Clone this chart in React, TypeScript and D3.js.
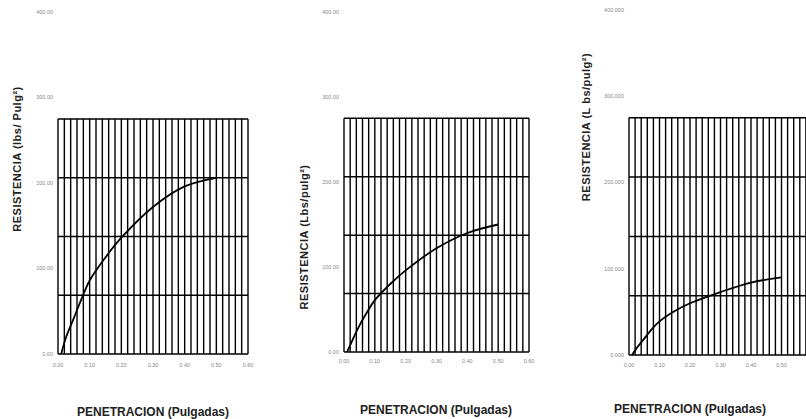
import React from "react";
import * as d3 from "d3";

const W = 806;
const H = 419;

// penetration (in) values used by all three tests
const penetration = [0.01, 0.025, 0.05, 0.075, 0.1, 0.15, 0.2, 0.3, 0.4, 0.5];
// resistance series (lbs/pulg²)
const resistance1 = [0, 19, 42, 65, 86, 113, 136, 172, 196, 206];
const resistance2 = [0, 12, 31, 47, 61, 80, 96, 122, 140, 150];
const resistance3 = [0, 8, 19, 30, 39, 51, 60, 73, 84, 90];

const xTicks = [0, 0.1, 0.2, 0.3, 0.4, 0.5, 0.6];
const yTicks = [0, 100, 200, 300, 400];
const gridXStep = 0.02;
const gridMax = 275;
const gridYDivs = 4;

const yTitles = [
  "RESISTENCIA (lbs/ Pulg²)",
  "RESISTENCIA (Lbs/pulg²)",
  "RESISTENCIA (L bs/pulg²)",
];
const xTitle = "PENETRACION (Pulgadas)";
const yDecimals = [2, 2, 3];

type Panel = {
  x0: number; x1: number; yb: number; yt: number;
  values: number[]; yTitleX: number; yTitleY: number; xTitleX: number;
  tickY: number; xTitleY: number;
};

const panels: Panel[] = [
  { x0: 58, x1: 248, yb: 354, yt: 12, values: resistance1, yTitleX: 17, yTitleY: 159, xTitleX: 153, tickY: 365, xTitleY: 416 },
  { x0: 344, x1: 529, yb: 352, yt: 12, values: resistance2, yTitleX: 304, yTitleY: 237, xTitleX: 436, tickY: 361, xTitleY: 414 },
  { x0: 629, x1: 812, yb: 355, yt: 10, values: resistance3, yTitleX: 586, yTitleY: 127, xTitleX: 690, tickY: 365, xTitleY: 413 },
];

const FONT = "Liberation Sans, Arial, sans-serif";

function ChartPanel({ p, idx }: { p: Panel; idx: number }) {
  const x = d3.scaleLinear().domain([0, 0.6]).range([p.x0, p.x1]);
  const y = d3.scaleLinear().domain([0, 400]).range([p.yb, p.yt]);
  const nV = Math.round(0.6 / gridXStep);
  const vLines = d3.range(nV + 1).map((i) => i * gridXStep);
  const hLines = d3.range(gridYDivs + 1).map((i) => (i * gridMax) / gridYDivs);
  const line = d3
    .line<number>()
    .x((_, i) => x(penetration[i]))
    .y((d) => y(d))
    .curve(d3.curveCatmullRom.alpha(0.5));
  const fmtY = d3.format(`.${yDecimals[idx]}f`);
  const fmtX = d3.format(".2f");
  return (
    <g>
      {vLines.map((v, i) => (
        <line key={"v" + i} x1={x(v)} x2={x(v)} y1={y(0)} y2={y(gridMax)} stroke="#000" strokeWidth={1.4} />
      ))}
      {hLines.map((v, i) => (
        <line key={"h" + i} x1={x(0)} x2={x(0.6)} y1={y(v)} y2={y(v)} stroke="#000" strokeWidth={1.5} />
      ))}
      <path d={line(p.values) || ""} fill="none" stroke="#000" strokeWidth={1.8} />
      {yTicks.map((t) => (
        <text key={"yt" + t} x={p.x0 - 5} y={y(t)} dy="0.35em" textAnchor="end" fontSize={5.5} fill="#888" fontFamily={FONT}>
          {fmtY(t)}
        </text>
      ))}
      {xTicks.map((t) => (
        <text key={"xt" + t} x={x(t)} y={p.tickY} dy="0.35em" textAnchor="middle" fontSize={5.5} fill="#888" fontFamily={FONT}>
          {fmtX(t)}
        </text>
      ))}
      <text
        transform={`translate(${p.yTitleX},${p.yTitleY}) rotate(-90)`}
        textAnchor="middle"
        dy="0.35em"
        fontSize={11}
        letterSpacing={0.5}
        fontWeight="bold"
        fill="#222"
        fontFamily={FONT}
      >
        {yTitles[idx]}
      </text>
      <text x={p.xTitleX} y={p.xTitleY} textAnchor="middle" fontSize={12} fontWeight="bold" fill="#222" fontFamily={FONT}>
        {xTitle}
      </text>
    </g>
  );
}

export default function App() {
  return (
    <svg width={W} height={H} style={{ position: "fixed", left: 0, top: 0, background: "#fff" }}>
      <rect width={W} height={H} fill="#fff" />
      {panels.map((p, i) => (
        <ChartPanel key={i} p={p} idx={i} />
      ))}
    </svg>
  );
}
